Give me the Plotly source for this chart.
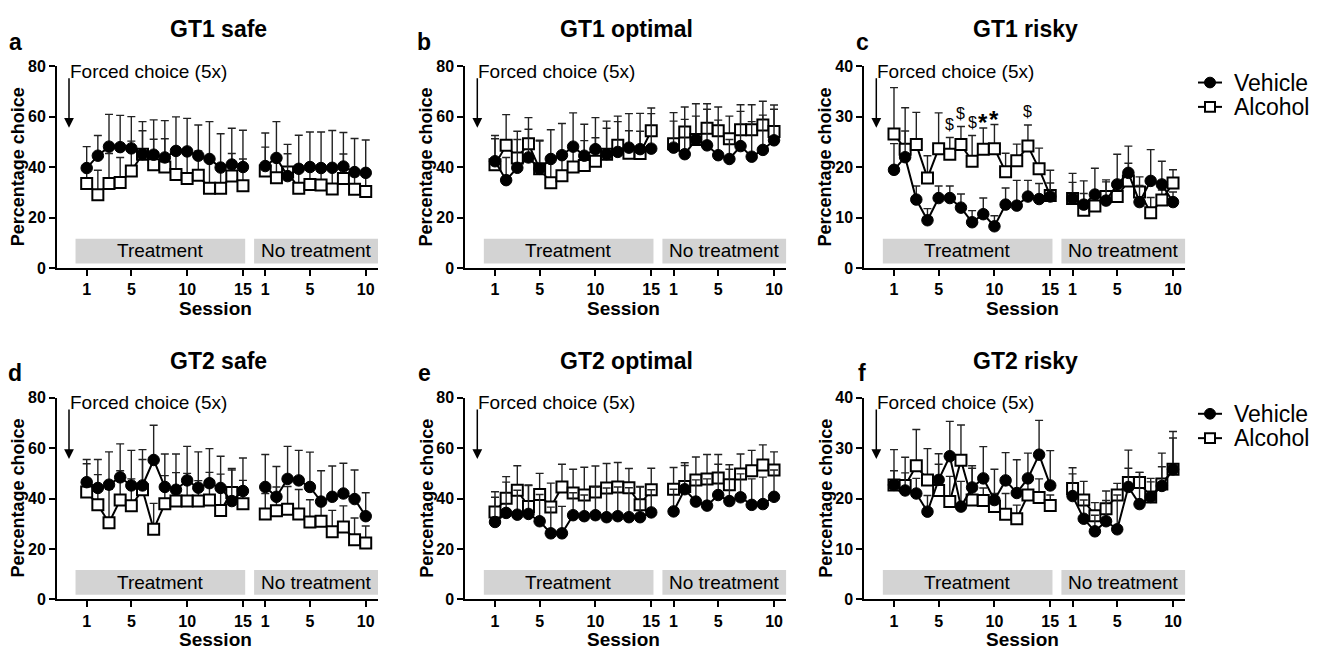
import plotly.graph_objects as go

W, H = 1336, 661
FONT = "Arial, 'Liberation Sans', sans-serif"

# ---------------- data ----------------
treatment_sessions = list(range(1, 16))
no_treatment_sessions = list(range(1, 11))
treatment_ticks = [1, 5, 10, 15]
no_treatment_ticks = [1, 5, 10]

titles = ["GT1 safe", "GT1 optimal", "GT1 risky", "GT2 safe", "GT2 optimal", "GT2 risky"]
letters = ["a", "b", "c", "d", "e", "f"]
y_max = [80, 80, 40, 80, 80, 40]
y_step = [20, 20, 10, 20, 20, 10]

# 15 treatment sessions followed by 10 no-treatment sessions
a_vehicle = [39.7, 44.6, 48.2, 48.0, 47.5, 45.2, 45.0, 43.9, 46.5, 46.3, 44.6, 43.3, 39.9, 41.1, 40.1,
             40.5, 43.7, 36.5, 39.4, 40.1, 39.7, 39.8, 40.3, 38.1, 37.8]
a_vehicle_sem = [8.5, 8.0, 12.8, 12.6, 12.6, 12.9, 13.8, 14.6, 13.5, 13.1, 12.2, 14.8, 13.4, 14.4, 14.6,
                 13.1, 14.4, 12.6, 13.3, 13.9, 14.3, 14.8, 13.5, 13.3, 13.0]
a_alcohol = [33.6, 29.1, 33.6, 34.0, 38.5, 45.2, 41.0, 40.1, 37.1, 35.6, 36.8, 31.7, 31.7, 36.5, 32.7,
             38.5, 35.9, 38.1, 31.7, 33.2, 33.0, 31.4, 35.6, 31.3, 30.4]
a_alcohol_sem = [6.1, 9.7, 11.9, 9.9, 11.9, 9.3, 10.1, 11.2, 9.4, 10.7, 9.7, 11.6, 8.2, 9.0, 10.6,
                 9.5, 7.7, 7.3, 9.3, 8.4, 6.7, 8.4, 9.7, 6.8, 7.3]

b_vehicle = [42.4, 34.9, 39.8, 43.9, 39.4, 43.3, 44.8, 48.2, 44.6, 47.2, 45.2, 46.1, 47.8, 47.2, 47.4,
             47.8, 45.2, 51.0, 48.7, 44.8, 43.3, 48.4, 44.2, 46.9, 50.7]
b_vehicle_sem = [10.2, 9.0, 11.2, 11.2, 11.3, 11.6, 12.6, 13.4, 12.5, 12.5, 13.1, 14.2, 13.5, 14.2, 13.9,
                 13.9, 13.8, 14.2, 14.3, 13.9, 7.7, 13.8, 13.9, 13.8, 14.0]
b_alcohol = [41.0, 48.7, 43.7, 49.3, 39.4, 33.9, 36.6, 40.1, 40.7, 42.4, 45.2, 48.7, 45.6, 45.5, 54.5,
             49.3, 54.0, 51.0, 55.5, 54.5, 51.3, 54.9, 54.9, 56.8, 54.2]
b_alcohol_sem = [10.3, 12.2, 10.6, 10.4, 11.0, 9.4, 8.2, 8.1, 9.9, 9.3, 10.3, 9.4, 8.9, 8.8, 9.0,
                 9.0, 9.9, 9.3, 9.7, 9.4, 9.0, 9.9, 9.9, 9.4, 8.8]

c_vehicle = [19.5, 22.0, 13.6, 9.5, 13.9, 13.9, 12.0, 9.1, 10.7, 8.3, 12.6, 12.4, 14.2, 13.7, 14.2,
             13.8, 12.6, 14.6, 13.4, 16.6, 18.9, 13.1, 17.3, 16.6, 13.1]
c_vehicle_sem = [5.2, 5.2, 2.7, 2.3, 2.4, 2.4, 2.7, 2.3, 3.2, 2.1, 3.3, 5.0, 3.2, 3.1, 2.7,
                 5.0, 4.7, 5.2, 3.7, 6.0, 5.3, 3.3, 6.2, 4.6, 2.0]
c_alcohol = [26.6, 23.6, 24.5, 17.9, 23.7, 22.6, 24.5, 21.2, 23.6, 23.7, 19.1, 21.3, 24.2, 19.7, 14.4,
             13.8, 11.5, 12.3, 14.2, 14.2, 17.3, 15.1, 11.0, 13.5, 16.9]
c_alcohol_sem = [9.2, 8.2, 6.4, 4.4, 7.1, 3.3, 3.6, 5.1, 4.2, 4.8, 3.7, 3.3, 4.2, 4.1, 5.0,
                 3.2, 3.3, 2.0, 3.3, 2.5, 3.5, 3.0, 3.0, 2.0, 2.6]
c_sig_sessions = [6, 7, 8, 9, 10, 13]
c_sig_marks = ["$", "$", "$", "*", "*", "$"]

d_vehicle = [46.5, 44.2, 45.5, 48.4, 45.2, 45.2, 55.3, 44.6, 43.5, 47.2, 44.3, 46.1, 44.2, 39.0, 43.0,
             44.6, 40.7, 47.8, 47.2, 44.6, 38.8, 40.7, 42.0, 39.8, 33.0]
d_vehicle_sem = [9.0, 11.3, 13.0, 13.3, 13.9, 14.2, 13.8, 13.1, 14.2, 13.5, 14.2, 13.7, 12.6, 12.9, 13.1,
                 12.9, 12.0, 12.9, 11.9, 13.8, 12.2, 12.2, 12.0, 11.5, 9.3]
d_alcohol = [42.6, 37.5, 30.4, 39.4, 37.1, 43.5, 27.8, 37.9, 39.0, 39.0, 39.0, 39.4, 35.3, 42.4, 37.9,
             33.9, 35.2, 35.8, 33.9, 30.7, 31.0, 26.8, 28.7, 23.7, 22.4]
d_alcohol_sem = [11.2, 12.0, 13.3, 11.6, 10.7, 12.0, 10.3, 11.2, 11.3, 11.0, 8.1, 11.0, 14.4, 8.9, 9.3,
                 8.1, 9.4, 9.0, 9.7, 8.8, 8.4, 8.5, 8.4, 8.6, 6.7]

e_vehicle = [30.7, 34.3, 33.6, 33.9, 31.0, 26.2, 26.2, 33.4, 33.0, 33.4, 32.6, 33.0, 32.6, 32.6, 34.5,
             34.9, 43.7, 38.8, 37.2, 41.4, 39.0, 40.5, 37.5, 37.8, 40.7]
e_vehicle_sem = [9.8, 12.2, 9.7, 11.3, 10.6, 10.4, 10.7, 8.9, 8.4, 11.2, 11.6, 11.6, 11.7, 12.2, 9.0,
                 8.8, 9.4, 8.6, 10.6, 12.2, 12.6, 9.3, 10.3, 10.7, 10.6]
e_alcohol = [34.7, 40.1, 43.3, 36.8, 41.6, 36.6, 44.6, 42.2, 41.4, 42.6, 44.2, 44.6, 44.3, 37.5, 43.5,
             43.7, 44.8, 47.4, 47.8, 48.2, 45.5, 49.7, 51.0, 53.3, 51.3]
e_alcohol_sem = [8.0, 8.6, 9.7, 8.6, 8.4, 9.5, 9.0, 9.4, 11.0, 10.3, 9.7, 9.7, 7.6, 7.1, 8.5,
                 8.6, 9.4, 9.1, 9.7, 9.3, 7.9, 8.0, 8.1, 8.0, 7.2]

f_vehicle = [22.7, 21.6, 21.0, 17.4, 23.7, 28.4, 18.4, 22.2, 24.0, 19.7, 23.6, 21.1, 24.0, 28.7, 22.6,
             20.5, 16.0, 13.5, 15.5, 13.9, 22.3, 18.9, 20.3, 22.5, 25.8]
f_vehicle_sem = [7.0, 3.5, 3.0, 3.2, 5.2, 6.9, 5.0, 4.3, 6.3, 6.1, 5.5, 6.6, 5.0, 6.8, 6.9,
                 4.4, 3.7, 3.2, 4.1, 6.8, 7.3, 6.3, 3.7, 3.8, 7.5]
f_alcohol = [22.7, 22.6, 26.5, 23.7, 21.6, 19.4, 27.6, 19.7, 19.6, 18.4, 16.9, 16.0, 20.7, 20.2, 18.6,
             22.0, 19.7, 16.6, 18.0, 20.7, 23.2, 23.2, 20.3, 22.9, 25.8]
f_alcohol_sem = [2.8, 5.6, 7.2, 6.2, 5.2, 5.0, 7.0, 6.3, 2.5, 2.6, 4.1, 2.7, 3.2, 3.7, 2.1,
                 4.1, 3.7, 2.6, 3.5, 2.3, 2.8, 2.0, 3.0, 6.1, 6.2]

panel_data = [
    (a_vehicle, a_vehicle_sem, a_alcohol, a_alcohol_sem),
    (b_vehicle, b_vehicle_sem, b_alcohol, b_alcohol_sem),
    (c_vehicle, c_vehicle_sem, c_alcohol, c_alcohol_sem),
    (d_vehicle, d_vehicle_sem, d_alcohol, d_alcohol_sem),
    (e_vehicle, e_vehicle_sem, e_alcohol, e_alcohol_sem),
    (f_vehicle, f_vehicle_sem, f_alcohol, f_alcohol_sem),
]

# ---------------- layout geometry ----------------
col_left_px = [57, 465.3, 864.3]
row_top_px = [60, 400]
plot_w_px = 321
plot_h_px = 207
NT_OFFSET = 16          # no-treatment session n sits at axis position 16 + n
x_range = [-1.66, 27.1]

n_tr = len(treatment_sessions)
x_positions = treatment_sessions + [None] + [NT_OFFSET + s for s in no_treatment_sessions]
tick_vals = treatment_ticks + [NT_OFFSET + s for s in no_treatment_ticks]
tick_text = [str(t) for t in treatment_ticks] + [str(t) for t in no_treatment_ticks]


def split(vals, fill=None):
    return list(vals[:n_tr]) + [fill] + list(vals[n_tr:])


def px_x(p):
    return p / W


def px_y(p):
    return 1 - p / H


def text_ann(x, y, text, size, bold=False, xanchor="center", yanchor="middle", **kw):
    d = dict(xref="paper", yref="paper", x=x, y=y, text=(f"<b>{text}</b>" if bold else text),
             showarrow=False, xanchor=xanchor, yanchor=yanchor,
             font=dict(family=FONT, size=size, color="black"))
    d.update(kw)
    return d


fig = go.Figure()
annotations = []
shapes = []

for i in range(6):
    row, col = divmod(i, 3)
    left = col_left_px[col]
    top = row_top_px[row]
    xa = "x" if i == 0 else f"x{i+1}"
    ya = "y" if i == 0 else f"y{i+1}"
    xkey = "xaxis" if i == 0 else f"xaxis{i+1}"
    ykey = "yaxis" if i == 0 else f"yaxis{i+1}"

    veh, veh_sem, alc, alc_sem = panel_data[i]
    zeros = [0] * (len(x_positions))

    fig.add_trace(go.Scatter(
        x=x_positions, y=split(alc), xaxis=xa, yaxis=ya, mode="lines+markers",
        name="Alcohol", showlegend=False, connectgaps=False,
        line=dict(color="black", width=2),
        marker=dict(symbol="square", size=11, color="white", line=dict(color="black", width=2)),
        error_y=dict(type="data", symmetric=False, array=split(alc_sem, 0), arrayminus=zeros,
                     color="#222", thickness=1.4, width=4),
    ))
    fig.add_trace(go.Scatter(
        x=x_positions, y=split(veh), xaxis=xa, yaxis=ya, mode="lines+markers",
        name="Vehicle", showlegend=False, connectgaps=False,
        line=dict(color="black", width=2),
        marker=dict(symbol="circle", size=11.5, color="black", line=dict(color="black", width=1)),
        error_y=dict(type="data", symmetric=False, array=split(veh_sem, 0), arrayminus=zeros,
                     color="#222", thickness=1.4, width=4),
    ))

    fig.update_layout(**{
        xkey: dict(domain=[px_x(left), px_x(left + plot_w_px)], range=x_range, anchor=ya,
                   showline=True, linecolor="black", linewidth=2, ticks="outside", ticklen=6,
                   tickwidth=2, tickcolor="black", tickvals=tick_vals, ticktext=tick_text,
                   tickfont=dict(family=FONT, size=16, color="black", weight="bold"),
                   showgrid=False, zeroline=False, fixedrange=True),
        ykey: dict(domain=[px_y(top + plot_h_px), px_y(top)], range=[0, y_max[i]], anchor=xa,
                   showline=True, linecolor="black", linewidth=2, ticks="outside", ticklen=6,
                   tickwidth=2, tickcolor="black", tick0=0, dtick=y_step[i],
                   tickfont=dict(family=FONT, size=16, color="black", weight="bold"),
                   showgrid=False, zeroline=False, fixedrange=True),
    })

    # phase boxes
    for x0, x1, label in [(0.0, 15.2, "Treatment"), (16.0, 27.1, "No treatment")]:
        shapes.append(dict(type="rect", xref=xa, yref=f"{ya} domain", x0=x0, x1=x1, y0=0.023, y1=0.146,
                           fillcolor="#d3d3d3", line=dict(width=0), layer="below"))
        annotations.append(dict(xref=xa, yref=f"{ya} domain", x=(x0 + x1) / 2, y=0.085, text=label,
                                showarrow=False, xanchor="center", yanchor="middle",
                                font=dict(family=FONT, size=19, color="black")))

    # forced choice annotation
    fx = 12 / plot_w_px
    annotations.append(dict(xref=f"{xa} domain", yref=f"{ya} domain", x=fx - 0.003, y=1 - 5 / plot_h_px,
                            text="Forced choice (5x)", showarrow=False, xanchor="left", yanchor="middle",
                            font=dict(family=FONT, size=19, color="black")))
    annotations.append(dict(xref=f"{xa} domain", yref=f"{ya} domain", x=fx, y=1 - 63 / plot_h_px,
                            ax=0, ay=-51, axref="pixel", ayref="pixel", text="", showarrow=True,
                            arrowhead=2, arrowsize=1.3, arrowwidth=1.5, arrowcolor="black"))

    # title, letter, axis titles
    annotations.append(text_ann(px_x(left + 161), px_y(top - 38), titles[i], 23, bold=True))
    letter_x = [15, 424, 862][col]
    annotations.append(text_ann(px_x(letter_x), px_y(top - 25), letters[i], 23, bold=True))
    annotations.append(text_ann(px_x(left - 39), px_y(top + plot_h_px / 2), "Percentage choice", 18,
                                bold=True, textangle=-90))
    annotations.append(text_ann(px_x(left + 158), px_y(top + 248), "Session", 19, bold=True))

# significance marks on panel c (placed above the Alcohol error bar)
for s, m in zip(c_sig_sessions, c_sig_marks):
    k = s - 1
    top_val = c_alcohol[k] + c_alcohol_sem[k]
    is_star = m == "*"
    annotations.append(dict(xref="x3", yref="y3", x=s, y=top_val, xanchor="center", yanchor="middle",
                            yshift=(5 if is_star else 13), text=(f"<b>{m}</b>" if is_star else m),
                            showarrow=False,
                            font=dict(family=FONT, size=(24 if is_star else 16), color="black")))

# legends (one per row)
for top in row_top_px:
    for dy, name in [(16.5, "Vehicle"), (41.5, "Alcohol")]:
        cy = top + dy
        shapes.append(dict(type="line", xref="paper", yref="paper", x0=px_x(1198), x1=px_x(1222),
                           y0=px_y(cy), y1=px_y(cy), line=dict(color="black", width=2)))
        if name == "Vehicle":
            shapes.append(dict(type="circle", xref="paper", yref="paper", x0=px_x(1204.5), x1=px_x(1215.5),
                               y0=px_y(cy + 5.5), y1=px_y(cy - 5.5), fillcolor="black",
                               line=dict(color="black", width=1)))
        else:
            shapes.append(dict(type="rect", xref="paper", yref="paper", x0=px_x(1205), x1=px_x(1215),
                               y0=px_y(cy + 5), y1=px_y(cy - 5), fillcolor="white",
                               line=dict(color="black", width=2)))
        annotations.append(text_ann(px_x(1232), px_y(cy), name, 23, xanchor="left"))

fig.update_layout(width=W, height=H, margin=dict(l=0, r=0, t=0, b=0),
                  paper_bgcolor="white", plot_bgcolor="white", showlegend=False,
                  annotations=annotations, shapes=shapes, font=dict(family=FONT, color="black"))

fig.write_html("out.html")
